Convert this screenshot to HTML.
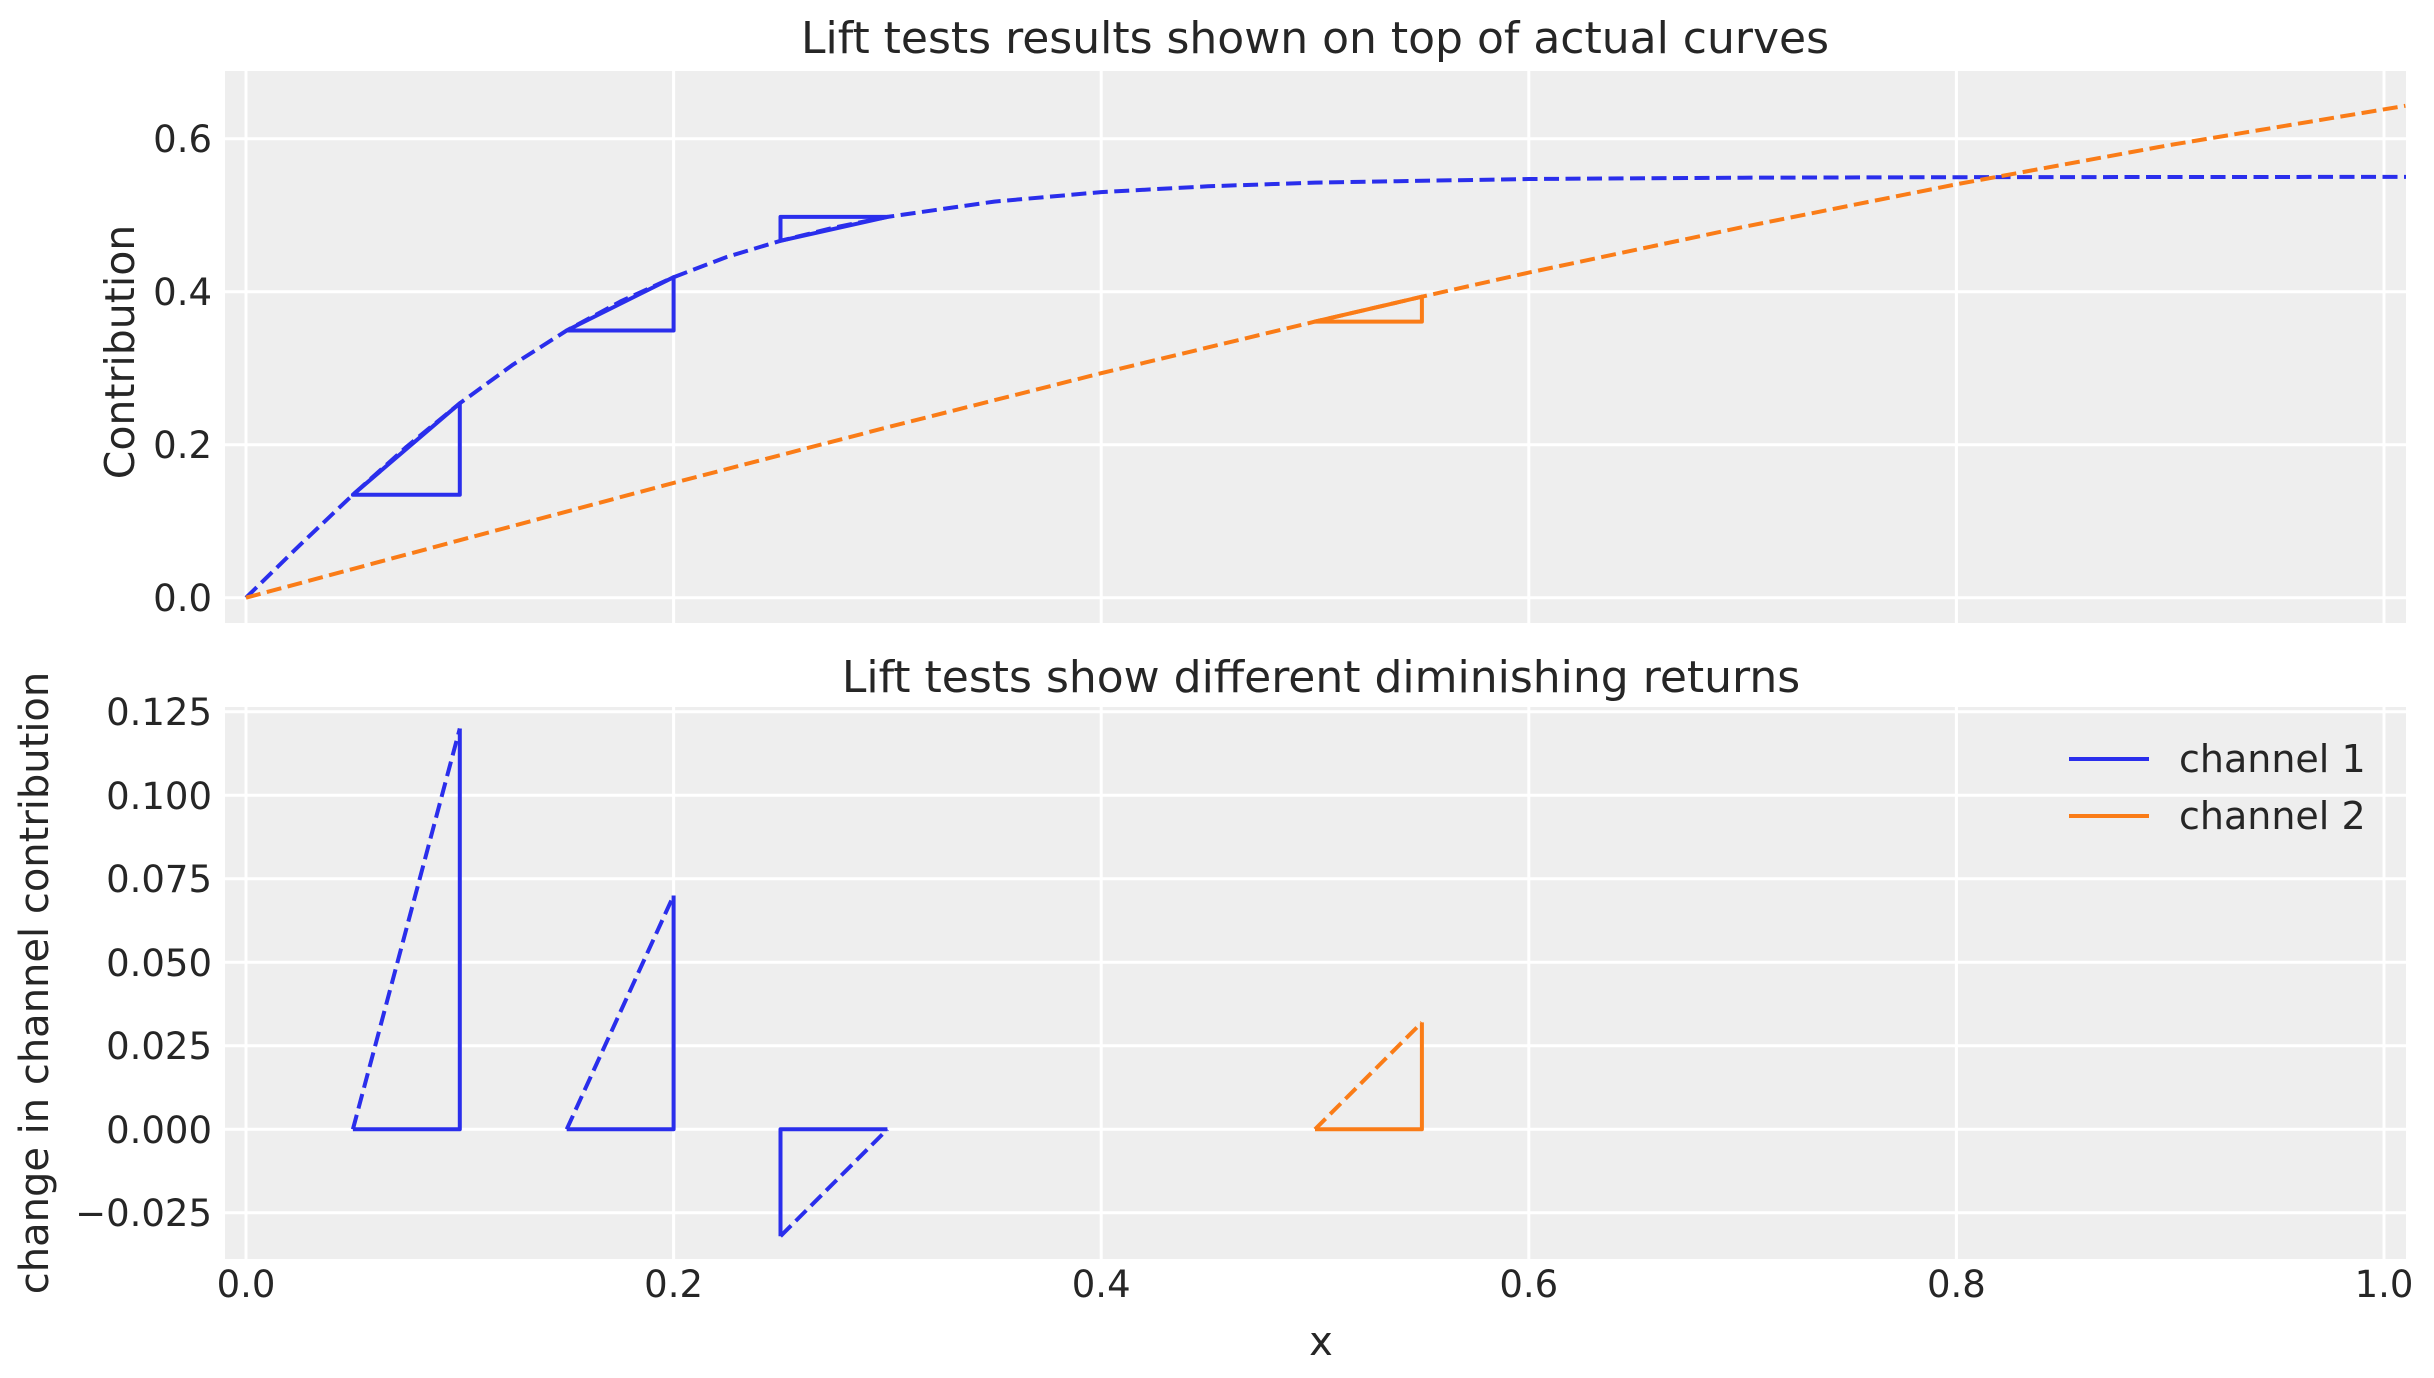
<!DOCTYPE html>
<html><head><meta charset="utf-8"><style>
html,body{margin:0;padding:0;background:#fff;}
svg{display:block;font-family:"DejaVu Sans","Liberation Sans",sans-serif;}
</style></head><body>
<svg width="2434" height="1378" viewBox="0 0 2434 1378" xmlns="http://www.w3.org/2000/svg">
<defs>
<clipPath id="c1"><rect x="225" y="71" width="2181" height="552"/></clipPath>
<clipPath id="c2"><rect x="225" y="707" width="2181" height="552"/></clipPath>
</defs>
<rect width="2434" height="1378" fill="#fff"/>
<!-- top axes -->
<rect x="225" y="71" width="2181" height="552" fill="#eeeeee"/>
<g stroke="#fff" stroke-width="3">
<line x1="246" y1="71" x2="246" y2="623"/><line x1="673.6" y1="71" x2="673.6" y2="623"/>
<line x1="1101.2" y1="71" x2="1101.2" y2="623"/><line x1="1528.8" y1="71" x2="1528.8" y2="623"/>
<line x1="1956.4" y1="71" x2="1956.4" y2="623"/><line x1="2384" y1="71" x2="2384" y2="623"/>
<line x1="225" y1="597.7" x2="2406" y2="597.7"/><line x1="225" y1="444.7" x2="2406" y2="444.7"/>
<line x1="225" y1="291.7" x2="2406" y2="291.7"/><line x1="225" y1="138.7" x2="2406" y2="138.7"/>
</g>
<g clip-path="url(#c1)" fill="none" stroke-width="4" stroke-linejoin="round">
<polyline stroke="#2a2eec" stroke-dasharray="15,6.5" points="246,597.7 299.5,545.4 352.9,494.7 406.4,446.9 459.8,403.3 513.3,364.4 566.7,330.5 620.2,301.6 673.6,277.2 727,256.9 780.5,240.8 834,227.6 887.4,216.9 994.3,201.6 1101.2,192.1 1208,186.3 1315,182.6 1528.8,179 1742.6,177.7 1956.4,177.2 2170,177 2384,176.9 2406,176.9"/>
<polyline stroke="#fa7c17" stroke-dasharray="15,6.5" points="246,597.7 459.8,540.2 673.6,482.9 887.4,427.3 1101.2,373.2 1315,321.6 1421.9,296.7 1528.8,272.6 1742.6,227.1 1956.4,184.3 2170,145 2405.4,105.8"/>
<path stroke="#2a2eec" d="M352.9,494.7 L459.8,403.3 L459.8,494.7 Z"/>
<path stroke="#2a2eec" d="M566.7,330.5 L673.6,277.2 L673.6,330.5 Z"/>
<path stroke="#2a2eec" d="M780.5,240.8 L887.4,216.9 L780.5,216.9 Z"/>
<path stroke="#fa7c17" d="M1315,321.6 L1421.9,296.7 L1421.9,321.6 Z"/>
</g>
<g font-size="37" fill="#262626" text-anchor="end">
<text x="212" y="611">0.0</text><text x="212" y="458">0.2</text>
<text x="212" y="305">0.4</text><text x="212" y="152">0.6</text>
</g>
<text x="1315" y="53" font-size="44" fill="#262626" text-anchor="middle">Lift tests results shown on top of actual curves</text>
<text transform="translate(134,352) rotate(-90)" font-size="41" fill="#262626" text-anchor="middle">Contribution</text>

<!-- bottom axes -->
<rect x="225" y="707" width="2181" height="552" fill="#eeeeee"/>
<g stroke="#fff" stroke-width="3">
<line x1="246" y1="707" x2="246" y2="1259"/><line x1="673.6" y1="707" x2="673.6" y2="1259"/>
<line x1="1101.2" y1="707" x2="1101.2" y2="1259"/><line x1="1528.8" y1="707" x2="1528.8" y2="1259"/>
<line x1="1956.4" y1="707" x2="1956.4" y2="1259"/><line x1="2384" y1="707" x2="2384" y2="1259"/>
<line x1="225" y1="1212.8" x2="2406" y2="1212.8"/><line x1="225" y1="1129.3" x2="2406" y2="1129.3"/>
<line x1="225" y1="1045.8" x2="2406" y2="1045.8"/><line x1="225" y1="962.3" x2="2406" y2="962.3"/>
<line x1="225" y1="878.8" x2="2406" y2="878.8"/><line x1="225" y1="795.3" x2="2406" y2="795.3"/>
<line x1="225" y1="711.8" x2="2406" y2="711.8"/>
</g>
<g clip-path="url(#c2)" fill="none" stroke-width="4" stroke-linejoin="round">
<path stroke="#2a2eec" d="M352.9,1129.3 L459.8,1129.3 L459.8,728.5"/>
<path stroke="#2a2eec" stroke-dasharray="15,6.5" d="M352.9,1129.3 L459.8,728.5"/>
<path stroke="#2a2eec" d="M566.7,1129.3 L673.6,1129.3 L673.6,895.5"/>
<path stroke="#2a2eec" stroke-dasharray="15,6.5" d="M566.7,1129.3 L673.6,895.5"/>
<path stroke="#2a2eec" d="M887.4,1129.3 L780.5,1129.3 L780.5,1236.2"/>
<path stroke="#2a2eec" stroke-dasharray="15,6.5" d="M780.5,1236.2 L887.4,1129.3"/>
<path stroke="#fa7c17" d="M1315,1129.3 L1421.9,1129.3 L1421.9,1022.4"/>
<path stroke="#fa7c17" stroke-dasharray="15,6.5" d="M1315,1129.3 L1421.9,1022.4"/>
</g>
<g font-size="37" fill="#262626" text-anchor="end">
<text x="212" y="1226">−0.025</text><text x="212" y="1143">0.000</text>
<text x="212" y="1059">0.025</text><text x="212" y="976">0.050</text>
<text x="212" y="892">0.075</text><text x="212" y="809">0.100</text>
<text x="212" y="725">0.125</text>
</g>
<g font-size="37" fill="#262626" text-anchor="middle">
<text x="246" y="1297">0.0</text><text x="673.6" y="1297">0.2</text>
<text x="1101.2" y="1297">0.4</text><text x="1528.8" y="1297">0.6</text>
<text x="1956.4" y="1297">0.8</text><text x="2384" y="1297">1.0</text>
</g>
<text x="1321" y="1355" font-size="40" fill="#262626" text-anchor="middle">x</text>
<text x="1321" y="692" font-size="44" fill="#262626" text-anchor="middle">Lift tests show different diminishing returns</text>
<text transform="translate(48,983) rotate(-90)" font-size="40" fill="#262626" text-anchor="middle">change in channel contribution</text>
<!-- legend -->
<line x1="2069" y1="759" x2="2149" y2="759" stroke="#2a2eec" stroke-width="4"/>
<line x1="2069" y1="816" x2="2149" y2="816" stroke="#fa7c17" stroke-width="4"/>
<text x="2179" y="772" font-size="38" fill="#262626">channel 1</text>
<text x="2179" y="829" font-size="38" fill="#262626">channel 2</text>
</svg>
</body></html>
